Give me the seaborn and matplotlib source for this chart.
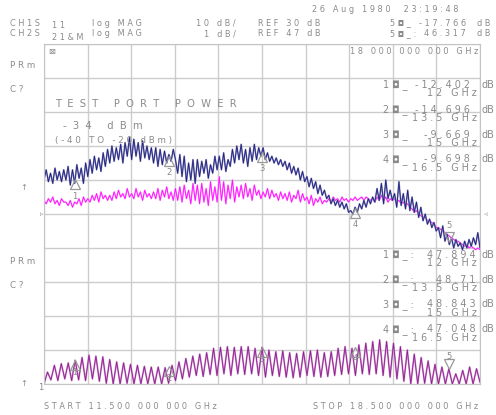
import numpy as np
import pandas as pd
import seaborn as sns
import matplotlib.pyplot as plt
from matplotlib import transforms

sns.set_style('white')
plt.rcParams['font.family'] = ['DejaVu Sans']

W, H = 496, 415
TXT = '#8a8a8a'

start_ghz, stop_ghz = 11.5, 18.5
marker_ghz = [12.0, 13.5, 15.0, 16.5, 18.0]
marker_freq_txt = ['12 GHz', '13.5 GHz', '15 GHz', '16.5 GHz']
ch1_marker_db = ['-12.402', '-14.696', '-9.669', '-9.698', '-17.766']
ch2_marker_db = ['47.894', '48.71', '48.843', '47.048', '46.317']

# traces, in graticule divisions (0 = bottom line, 10 = top line)
ch1_data = [
    6.0, 6.3, 5.95, 6.2, 5.9, 6.35, 6.0, 6.25, 5.95, 6.3,
    6.0, 6.4, 5.85, 6.3, 5.9, 6.45, 6.05, 6.35, 5.9, 6.5,
    6.1, 6.6, 6.2, 6.7, 6.3, 6.65, 6.25, 6.8, 6.4, 6.9,
    6.5, 7.0, 6.55, 6.95, 6.6, 7.05, 6.5, 7.1, 6.7, 7.25,
    6.6, 7.2, 6.7, 7.1, 6.55, 7.15, 6.65, 7.0, 6.6, 6.95,
    6.5, 6.95, 6.4, 6.9, 6.45, 6.85, 6.5, 6.75, 6.55, 6.9,
    6.6, 6.2, 6.75, 6.1, 6.7, 5.95, 6.5, 6.0, 6.6, 5.9,
    6.6, 6.1, 6.55, 6.2, 6.6, 6.05, 6.45, 6.2, 6.7, 6.3,
    6.7, 6.3, 6.8, 6.25, 6.6, 6.4, 6.9, 6.5, 7.0, 6.6,
    7.05, 6.5, 6.9, 6.4, 6.95, 6.55, 7.05, 6.6, 6.95, 6.7,
    6.95, 6.6, 6.8, 6.55, 6.7, 6.5, 6.65, 6.45, 6.6, 6.4,
    6.55, 6.3, 6.5, 6.2, 6.4, 6.15, 6.35, 6.0, 6.25, 5.95,
    6.1, 5.8, 6.05, 5.75, 5.95, 5.6, 5.85, 5.55, 5.7, 5.45,
    5.55, 5.3, 5.45, 5.25, 5.4, 5.2, 5.35, 5.15, 5.3, 5.05,
    5.1, 5.0, 5.2, 5.05, 5.3, 5.15, 5.4, 5.2, 5.45, 5.3,
    5.5, 5.35, 5.75, 5.4, 5.9, 5.3, 6.0, 5.45, 5.7, 5.4,
    5.6, 5.2, 5.95, 5.25, 5.6, 5.15, 5.7, 5.1, 5.5, 5.05,
    5.35, 4.9, 5.2, 4.8, 5.0, 4.7, 4.85, 4.6, 4.75, 4.5,
    4.6, 4.3, 4.65, 4.2, 4.4, 4.1, 4.3, 4.0, 4.25, 4.05,
    4.15, 3.95, 4.2, 4.0, 4.25, 4.05, 4.3, 4.1, 4.45, 4.0,
]
ch1_memory = [
    5.4, 5.3, 5.45, 5.35, 5.5, 5.3, 5.4, 5.25, 5.45, 5.35,
    5.35, 5.25, 5.4, 5.2, 5.35, 5.3, 5.45, 5.25, 5.5, 5.35,
    5.45, 5.35, 5.55, 5.4, 5.6, 5.35, 5.65, 5.45, 5.55, 5.4,
    5.55, 5.4, 5.65, 5.45, 5.7, 5.5, 5.6, 5.45, 5.75, 5.5,
    5.6, 5.45, 5.75, 5.5, 5.65, 5.4, 5.7, 5.5, 5.6, 5.45,
    5.65, 5.45, 5.75, 5.4, 5.7, 5.5, 5.8, 5.45, 5.65, 5.4,
    5.75, 5.4, 5.8, 5.35, 5.85, 5.45, 5.7, 5.3, 5.9, 5.4,
    5.85, 5.3, 5.9, 5.35, 5.75, 5.25, 5.95, 5.4, 5.8, 5.35,
    6.1, 5.4, 5.95, 5.3, 5.85, 5.45, 6.0, 5.35, 5.8, 5.5,
    5.85, 5.45, 5.9, 5.5, 5.75, 5.4, 5.85, 5.55, 5.7, 5.45,
    5.65, 5.5, 5.75, 5.45, 5.7, 5.5, 5.6, 5.4, 5.65, 5.45,
    5.6, 5.4, 5.65, 5.35, 5.55, 5.45, 5.7, 5.35, 5.6, 5.4,
    5.5, 5.3, 5.55, 5.25, 5.45, 5.35, 5.5, 5.3, 5.4, 5.35,
    5.45, 5.35, 5.5, 5.4, 5.45, 5.35, 5.5, 5.4, 5.45, 5.35,
    5.45, 5.4, 5.5, 5.4, 5.45, 5.5, 5.4, 5.5, 5.45, 5.4,
    5.45, 5.35, 5.5, 5.4, 5.55, 5.4, 5.5, 5.35, 5.45, 5.4,
    5.45, 5.35, 5.4, 5.3, 5.35, 5.25, 5.3, 5.2, 5.15, 5.05,
    5.1, 5.0, 4.95, 4.9, 4.9, 4.8, 4.8, 4.75, 4.7, 4.6,
    4.6, 4.55, 4.5, 4.45, 4.4, 4.35, 4.3, 4.25, 4.2, 4.2,
    4.15, 4.1, 4.05, 4.1, 4.0, 4.05, 4.0, 3.95, 4.0, 3.95,
]
# CH2 ripple: one peak per cycle, troughs at cycle edges
ch2_peaks = [
    0.35, 0.55, 0.6, 0.62, 0.7, 0.78, 0.85, 0.82, 0.8, 0.72,
    0.65, 0.62, 0.58, 0.55, 0.52, 0.5, 0.5, 0.48, 0.55, 0.65,
    0.75, 0.82, 0.88, 0.92, 1.05, 1.08, 1.1, 1.08, 1.1, 1.1,
    1.05, 1.08, 1.0, 0.95, 0.98, 0.92, 0.9, 0.95, 0.98, 1.0,
    0.92, 0.95, 1.05, 1.1, 1.05, 1.15, 1.2, 1.25, 1.3, 1.25,
    1.2, 1.1, 1.0, 0.88, 0.78, 0.68, 0.58, 0.5, 0.45, 0.3,
    0.4, 0.5, 0.45,
]
ch2_troughs = [
    0.0, 0.12, 0.1, 0.15, 0.1, 0.12, 0.1, 0.15, 0.08,
    0.02, 0.0, 0.0, 0.02, 0.0, 0.0, 0.0, 0.0, 0.0, 0.02,
    0.1, 0.15, 0.2, 0.25, 0.22, 0.28, 0.25, 0.3, 0.25, 0.3, 0.28, 0.3,
    0.25, 0.2, 0.25, 0.22, 0.2, 0.18, 0.2, 0.25, 0.22, 0.2,
    0.22, 0.25, 0.28, 0.3, 0.25, 0.3, 0.28, 0.3, 0.25, 0.2, 0.15, 0.08,
    0.0, 0.0, 0.02, 0.0, 0.0, 0.0, 0.0, 0.0, 0.0, 0.0, 0.05,
]

ch2_vals = [ch2_troughs[0]]
for p, t in zip(ch2_peaks, ch2_troughs[1:]):
    ch2_vals += [p, t]

up = pd.DataFrame({'ghz': np.linspace(start_ghz, stop_ghz, len(ch1_data)),
                   'data': ch1_data, 'mem': ch1_memory})
low = pd.DataFrame({'ghz': np.linspace(start_ghz, stop_ghz, len(ch2_vals)), 'val': ch2_vals})
peak_ghz = (low['ghz'].values[:-1:2] + low['ghz'].values[2::2]) / 2

fig = plt.figure(figsize=(W / 100, H / 100), dpi=100)
ax = fig.add_axes([44 / W, 1 - 384 / H, 436 / W, 340 / H])
ax.set_xlim(start_ghz, stop_ghz)
ax.set_ylim(0, 10)
ax.set_xticks(np.linspace(start_ghz, stop_ghz, 11))
ax.set_yticks(range(11))
ax.tick_params(length=0, labelbottom=False, labelleft=False)
ax.grid(True, color='#cccccc', lw=1)
for s in ax.spines.values():
    s.set_color('#c4c4c4')

# CH2 data & memory (nearly identical)
sns.lineplot(data=low, x='ghz', y='val', ax=ax, color='#cc96cc', lw=1.3)
sns.lineplot(data=low, x='ghz', y='val', ax=ax, color='#921c92', lw=0.6)
# CH1
sns.lineplot(data=up, x='ghz', y='mem', ax=ax, color='#ff9cff', lw=1.1)
sns.lineplot(data=up, x='ghz', y='mem', ax=ax, color='#ff10ff', lw=0.6)
sns.lineplot(data=up, x='ghz', y='data', ax=ax, color='#8c8cc0', lw=1.2)
sns.lineplot(data=up, x='ghz', y='data', ax=ax, color='#22227e', lw=0.6)
ax.set_xlabel('')
ax.set_ylabel('')

# markers
down = transforms.ScaledTranslation(0, -0.05, fig.dpi_scale_trans)
upo = transforms.ScaledTranslation(0, 0.05, fig.dpi_scale_trans)
m_up = np.interp(marker_ghz, up['ghz'], up['data'])
m_low = np.interp(marker_ghz, peak_ghz, ch2_peaks)
for yv, gap in [(m_up, 0.17), (m_low, 0.12)]:
    for i, (f, y) in enumerate(zip(marker_ghz, yv)):
        if i < 4:
            ax.plot([f], [y], marker='^', ms=7, mfc='none', mec='#999999', mew=0.9,
                    transform=ax.transData + down)
            ax.text(f, y, str(i + 1), color=TXT, fontsize=6, ha='center', va='center',
                    transform=ax.transData + transforms.ScaledTranslation(0, -gap, fig.dpi_scale_trans))
        else:
            ax.plot([f], [y], marker='v', ms=7, mfc='none', mec='#999999', mew=0.9,
                    transform=ax.transData + upo)
            ax.text(f, y, str(i + 1), color=TXT, fontsize=6, ha='center', va='center',
                    transform=ax.transData + transforms.ScaledTranslation(0, gap, fig.dpi_scale_trans))


def put(x, y, s, size=5.9, gap=1, ha='left'):
    fig.text(x / W, 1 - y / H, (' ' * gap).join(s), fontsize=size, ha=ha, va='center', color=TXT)


# header
put(312, 10, '26 Aug 1980  23:19:48')
for y, ch, sp, scale, ref in [(23, 'CH1S', '11', '10 dB/', 'REF 30 dB'),
                              (34, 'CH2S', '21&M', '1 dB/', 'REF 47 dB')]:
    put(10, y, ch)
    put(52, y + 3, sp)
    put(92, y, 'log MAG')
    put(236, y, scale, ha='right')
    put(258, y, ref)
put(390, 23, '5◘_')
put(466, 23, ch1_marker_db[4], ha='right')
put(390, 34, '5◘_:')
put(466, 34, ch2_marker_db[4], ha='right')
put(477, 23, 'dB')
put(477, 34, 'dB')

put(48, 52, '⊠', size=6)
put(478, 52, '18 000 000 000 GHz', ha='right')
for y0 in (65, 262):
    put(10, y0, 'PRm', size=6.3)
    put(10, y0 + 24, 'C?', size=6.3)
put(20, 187, '↑', size=6)
put(20, 383, '↑', size=6)
put(38, 387, '1', size=6)
put(40, 214, '▹', size=5)
put(484, 214, '◃', size=5)

put(55, 104, 'TEST PORT POWER', size=7.2, gap=2)
put(63, 126, '-34 dBm', size=7.2, gap=2)
put(55, 140, '(-40 TO -20 dBm)', size=6.3)

for i in range(4):
    y1 = 85 + 24.8 * i
    put(383, y1, f'{i + 1}◘_', size=6.9)
    put(470, y1, ch1_marker_db[i], size=6.9, ha='right')
    put(481, y1, 'dB', size=6.9, gap=0)
    put(477, y1 + 8.5, marker_freq_txt[i], size=6.9, ha='right')
    y2 = 255 + 24.7 * i
    put(383, y2, f'{i + 1}◘_:', size=6.9)
    put(476, y2, ch2_marker_db[i], size=6.9, ha='right')
    put(481, y2, 'dB', size=6.9, gap=0)
    put(477, y2 + 8.5, marker_freq_txt[i], size=6.9, ha='right')

put(44, 406, 'START 11.500 000 000 GHz')
put(478, 406, 'STOP 18.500 000 000 GHz', ha='right')

fig.savefig('out.png', dpi=100)
